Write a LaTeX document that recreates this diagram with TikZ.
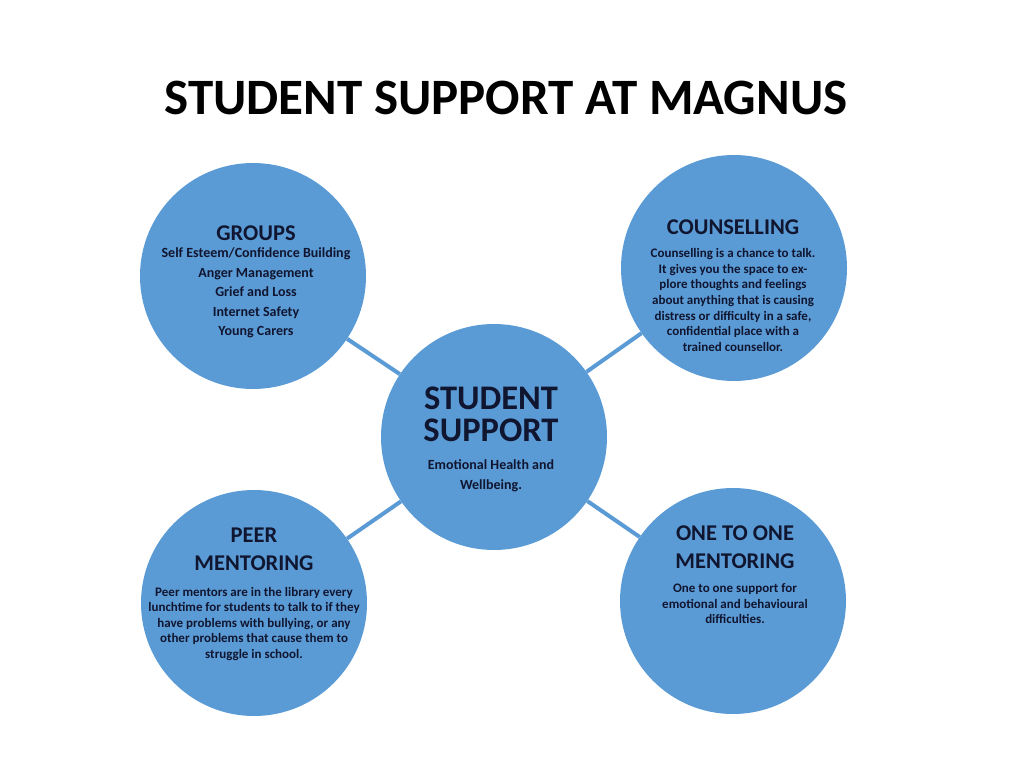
\documentclass[tikz,border=0pt]{standalone}
\usepackage{fontspec}
\setmainfont{Carlito}
\usepackage{xcolor}
\definecolor{circblue}{HTML}{5B9BD5}
\definecolor{inktext}{HTML}{101530}

\begin{document}
\begin{tikzpicture}[x=1pt, y=-1pt,
		bubble/.style={circle, fill=circblue, minimum size=226pt, inner sep=0pt},
		link/.style={circblue, line width=4pt},
		head/.style={text=inktext, font=\bfseries\fontsize{22.5}{27.5}\selectfont, align=center},
		blurb/.style={text=inktext, font=\bfseries\fontsize{13}{15.6}\selectfont, align=center}]
	\useasboundingbox (0,0) rectangle (1024,783);

	\node [font=\bfseries\fontsize{51}{56}\selectfont] (title) at (506,98) {STUDENT SUPPORT AT MAGNUS};

	\begin{scope}
		\node [bubble] (hub) at (494,437) {};
		\node [bubble] (groups) at (253,276) {};
		\node [bubble] (counsel) at (734,268) {};
		\node [bubble] (peer) at (254,603) {};
		\node [bubble] (onetoone) at (733,601) {};
	\end{scope}

	\begin{scope}
		\draw [link] (hub) -- (groups);
		\draw [link] (hub) -- (counsel);
		\draw [link] (hub) -- (peer);
		\draw [link] (hub) -- (onetoone);
	\end{scope}

	% centre
	\node [head, font=\bfseries\fontsize{34.5}{32}\selectfont] (hubhead) at (491,414) {STUDENT\\SUPPORT};
	\node [blurb, font=\bfseries\fontsize{14}{20}\selectfont] (hubtext) at (491,476) {Emotional Health and\\Wellbeing.};

	% groups
	\node [head] (groupshead) at (256,233) {GROUPS};
	\node [blurb, font=\bfseries\fontsize{14}{19.5}\selectfont] (groupstext) at (256,293)
		{Self Esteem/Confidence Building\\Anger Management\\Grief and Loss\\Internet Safety\\Young Carers};

	% counselling
	\node [head] (counselhead) at (733,227) {COUNSELLING};
	\node [blurb] (counseltext) at (733,300)
		{Counselling is a chance to talk.\\It gives you the space to ex-\\plore thoughts and feelings\\about anything that is causing\\distress or difficulty in a safe,\\confidential place with a\\trained counsellor.};

	% peer mentoring
	\node [head, font=\bfseries\fontsize{22.5}{28}\selectfont] (peerhead) at (254,549) {PEER\\MENTORING};
	\node [blurb, font=\bfseries\fontsize{13}{15.5}\selectfont] (peertext) at (254,624)
		{Peer mentors are in the library every\\lunchtime for students to talk to if they\\have problems with bullying, or any\\other problems that cause them to\\struggle in school.};

	% one to one
	\node [head] (oneheadline) at (735,547) {ONE TO ONE\\MENTORING};
	\node [blurb, font=\bfseries\fontsize{13}{15.5}\selectfont] (onetext) at (735,604)
		{One to one support for\\emotional and behavioural\\difficulties.};
\end{tikzpicture}
\end{document}
